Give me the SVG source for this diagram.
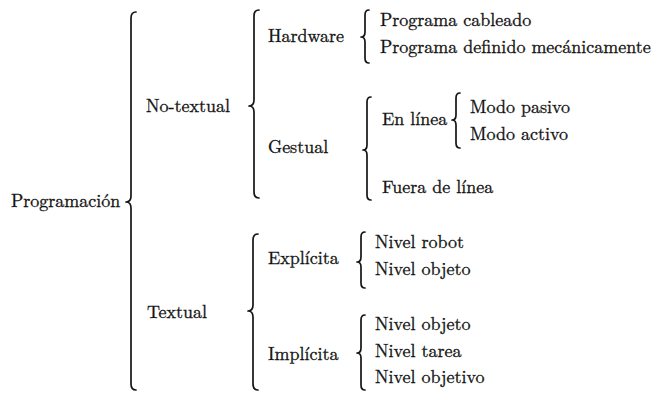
<svg xmlns="http://www.w3.org/2000/svg" width="655" height="393" viewBox="0 0 655 393">
<style>
.t{font-family:'Latin Modern Roman','Liberation Serif',serif;font-size:18px;fill:#111;stroke:#111;stroke-width:0.3}
.br{fill:none;stroke:#151515;stroke-width:1.7;stroke-linecap:round;stroke-linejoin:round}
</style>
<rect width="655" height="393" fill="#fff"/>
<g id="connectors">
<path class="br" d="M136,12 Q131,12 131,18 L131,196 Q131,202 126,202 Q131,202 131,208 L131,384 Q131,390 136,390"/>
<path class="br" d="M259,10 Q254,10 254,16 L254,100 Q254,106 249,106 Q254,106 254,112 L254,192 Q254,198 259,198"/>
<path class="br" d="M258,234 Q253,234 253,240 L253,305 Q253,311 248,311 Q253,311 253,317 L253,384 Q253,390 258,390"/>
<path class="br" d="M369,10 Q365,10 365,15 L365,32 Q365,37 361,37 Q365,37 365,42 L365,58 Q365,63 369,63"/>
<path class="br" d="M371,97 Q367,97 367,102 L367,145 Q367,150 363,150 Q367,150 367,155 L367,195 Q367,200 371,200"/>
<path class="br" d="M460,93 Q456,93 456,98 L456,115 Q456,120 452,120 Q456,120 456,125 L456,143 Q456,148 460,148"/>
<path class="br" d="M365,232 Q361,232 361,237 L361,257 Q361,262 357,262 Q361,262 361,267 L361,283 Q361,288 365,288"/>
<path class="br" d="M365,315 Q361,315 361,320 L361,348 Q361,353 357,353 Q361,353 361,358 L361,385 Q361,390 365,390"/>
</g>
<g class="t">
<g id="programacion"><text x="11" y="207">Programación</text></g>
<g id="no-textual"><text x="146" y="112">No-textual</text></g>
<g id="textual"><text x="147" y="318">Textual</text></g>
<g id="hardware"><text x="268" y="42">Hardware</text></g>
<g id="gestual"><text x="268" y="153">Gestual</text></g>
<g id="explicita"><text x="268" y="264">Explícita</text></g>
<g id="implicita"><text x="268" y="360">Implícita</text></g>
<g id="programa-cableado"><text x="380" y="26">Programa cableado</text></g>
<g id="programa-definido"><text x="380" y="53">Programa definido mecánicamente</text></g>
<g id="en-linea"><text x="382" y="125">En línea</text></g>
<g id="fuera-de-linea"><text x="382" y="193">Fuera de línea</text></g>
<g id="modo-pasivo"><text x="470" y="113">Modo pasivo</text></g>
<g id="modo-activo"><text x="470" y="140">Modo activo</text></g>
<g id="nivel-robot"><text x="375" y="248">Nivel robot</text></g>
<g id="nivel-objeto-1"><text x="375" y="275">Nivel objeto</text></g>
<g id="nivel-objeto-2"><text x="375" y="330">Nivel objeto</text></g>
<g id="nivel-tarea"><text x="375" y="357">Nivel tarea</text></g>
<g id="nivel-objetivo"><text x="375" y="383">Nivel objetivo</text></g>
</g>
</svg>
